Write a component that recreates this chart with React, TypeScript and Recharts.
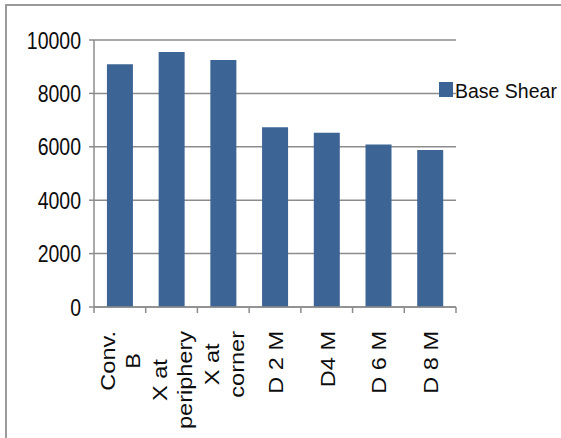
import { BarChart, Bar, XAxis, YAxis, CartesianGrid, Legend } from 'recharts';

// category labels use \n for the two-line ones
const categories = ['Conv.\nB', 'X at\nperiphery', 'X at\ncorner', 'D 2 M', 'D4 M', 'D 6 M', 'D 8 M'];
const baseShear = [9090, 9550, 9250, 6730, 6530, 6090, 5880];
const yTicks = [0, 2000, 4000, 6000, 8000, 10000];

const data = categories.map((name, i) => ({ name, baseShear: baseShear[i] }));

const FONT = "'Liberation Sans', Arial, sans-serif";
const GRID = '#8c8c8c';
const BAR = '#3c6494';
const TEXT = '#0d0d0d';

const X_FONT = 21;
const X_STRETCH = 1.12;
const X_LINE = 25;
const TICK = 6;

let ctx: CanvasRenderingContext2D | null = null;
function textWidth(s: string) {
  if (!ctx) ctx = document.createElement('canvas').getContext('2d');
  ctx!.font = `${X_FONT}px ${FONT}`;
  return ctx!.measureText(s).width;
}

function YTick({ x, y, payload }: any) {
  return (
    <text
      transform={`translate(${x},${y + 1}) scale(1,1.2)`}
      textAnchor="end"
      dominantBaseline="central"
      fontFamily={FONT}
      fontSize={19.5}
      fill={TEXT}
    >
      {payload.value}
    </text>
  );
}

// rotated, centred multi-line labels plus tick marks on the category edges
function CategoryTick({ x, y, payload, index }: any) {
  const half = payload.offset || 25.85;
  const axisY = y - TICK;
  const lines = String(payload.value).split('\n');
  const longest = Math.max(...lines.map(textWidth));
  const n = lines.length;
  return (
    <g>
      <line x1={x - half} x2={x - half} y1={axisY} y2={axisY + TICK} stroke={GRID} strokeWidth={1.5} />
      {index === categories.length - 1 && (
        <line x1={x + half} x2={x + half} y1={axisY} y2={axisY + TICK} stroke={GRID} strokeWidth={1.5} />
      )}
      <g transform={`translate(${x},${axisY + 24}) rotate(-90) scale(${X_STRETCH},1)`}>
        {lines.map((line, i) => (
          <text
            key={i}
            x={-longest / 2}
            y={8 + (i - (n - 1) / 2) * X_LINE}
            textAnchor="middle"
            fontFamily={FONT}
            fontSize={X_FONT}
            fill={TEXT}
          >
            {line}
          </text>
        ))}
      </g>
    </g>
  );
}

function LegendContent({ payload }: any) {
  return (
    <div style={{ display: 'flex', alignItems: 'center', whiteSpace: 'nowrap' }}>
      {(payload || []).map((entry: any) => (
        <div key={entry.value} style={{ display: 'flex', alignItems: 'center' }}>
          <span style={{ display: 'inline-block', width: 14, height: 15, background: entry.color, marginRight: 2 }} />
          <span
            style={{
              display: 'inline-block',
              fontFamily: FONT,
              fontSize: 19.5,
              color: TEXT,
              lineHeight: '22px',
              transform: 'scaleY(1.08)',
            }}
          >
            {entry.value}
          </span>
        </div>
      ))}
    </div>
  );
}

export default function App() {
  return (
    <div style={{ position: 'fixed', left: 0, top: 0, width: 561, height: 438, background: '#fff', overflow: 'hidden' }}>
      <div
        style={{
          position: 'absolute',
          left: 5,
          top: 4,
          right: -10,
          bottom: -10,
          borderTop: '2px solid #9a9a9a',
          borderLeft: '2px solid #9a9a9a',
        }}
      />
      <BarChart
        width={561}
        height={438}
        data={data}
        margin={{ top: 40, right: 105, bottom: 0, left: 0 }}
        barCategoryGap="25%"
      >
        <CartesianGrid vertical={false} stroke={GRID} strokeWidth={1.5} />
        <XAxis
          dataKey="name"
          height={131}
          interval={0}
          tickLine={false}
          tickSize={TICK}
          tickMargin={0}
          axisLine={{ stroke: GRID, strokeWidth: 1.5 }}
          tick={<CategoryTick />}
        />
        <YAxis
          width={94}
          domain={[0, 10000]}
          ticks={yTicks}
          interval={0}
          tickSize={5}
          tickMargin={8}
          axisLine={{ stroke: GRID, strokeWidth: 1.5 }}
          tickLine={{ stroke: GRID, strokeWidth: 1.5 }}
          tick={<YTick />}
        />
        <Legend
          layout="horizontal"
          align="center"
          verticalAlign="middle"
          content={<LegendContent />}
          wrapperStyle={{ left: 439, top: 78.5, width: 'auto' }}
        />
        <Bar dataKey="baseShear" name="Base Shear" fill={BAR} isAnimationActive={false} />
      </BarChart>
    </div>
  );
}
